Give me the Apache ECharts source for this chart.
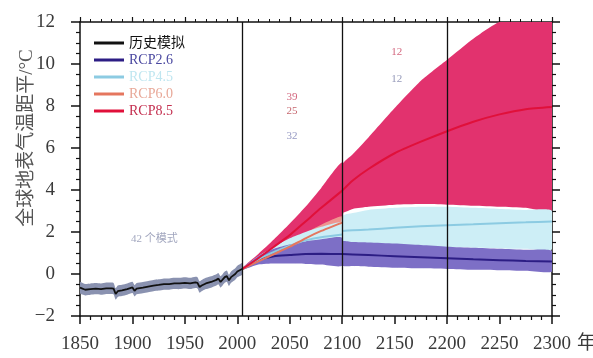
<!DOCTYPE html>
<html>
<head>
<meta charset="utf-8">
<script src="https://cdn.jsdelivr.net/npm/echarts@6/dist/echarts.min.js"></script>
<style>
html, body { margin: 0; padding: 0; background: #fff; }
#main { width: 593px; height: 358px; }
</style>
</head>
<body>
<div id="main"></div>
<script>
// historical run (1850-2005)
var histYears = [1850, 1855, 1860, 1865, 1870, 1875, 1880, 1882, 1884, 1886, 1890, 1895, 1900, 1902, 1904, 1910, 1915, 1920, 1925, 1930, 1935, 1940, 1945, 1950, 1955, 1960, 1962, 1964, 1966, 1970, 1975, 1980, 1982, 1984, 1988, 1990, 1992, 1994, 1998, 2000, 2005];
var histMean = [-0.65, -0.75, -0.72, -0.7, -0.72, -0.68, -0.68, -0.7, -0.95, -0.82, -0.78, -0.72, -0.64, -0.8, -0.7, -0.65, -0.6, -0.55, -0.52, -0.48, -0.48, -0.45, -0.45, -0.42, -0.45, -0.4, -0.42, -0.62, -0.55, -0.45, -0.38, -0.28, -0.22, -0.38, -0.15, -0.1, -0.3, -0.15, 0.0, 0.12, 0.25];
var histSpread = 0.27;

// projections, 2005-2100 and 2100-2300
var preYears = [2005, 2020, 2035, 2050, 2065, 2080, 2100];
var postYears = [2100, 2110, 2125, 2150, 2175, 2200, 2225, 2250, 2275, 2300];

var rcp26Mean = [0.25, 0.65, 0.85, 0.9, 0.95, 0.96, 0.95];
var rcp26Low = [0.2, 0.45, 0.5, 0.5, 0.48, 0.45, 0.4];
var rcp26High = [0.3, 0.85, 1.2, 1.4, 1.55, 1.65, 1.72];
var rcp26MeanPost = [0.95, 0.93, 0.9, 0.85, 0.8, 0.75, 0.7, 0.66, 0.62, 0.6];
var rcp26LowPost = [0.4, 0.38, 0.35, 0.3, 0.27, 0.24, 0.2, 0.18, 0.15, 0.12];
var rcp26HighPost = [1.55, 1.52, 1.5, 1.45, 1.38, 1.3, 1.25, 1.2, 1.15, 1.1];

var rcp45Mean = [0.25, 0.7, 1.05, 1.35, 1.6, 1.75, 1.88];
var rcp45Low = [0.2, 0.55, 0.8, 1.0, 1.15, 1.25, 1.35];
var rcp45High = [0.3, 0.85, 1.3, 1.7, 2.0, 2.25, 2.45];
var rcp45MeanPost = [2.05, 2.08, 2.12, 2.2, 2.27, 2.32, 2.37, 2.42, 2.46, 2.5];
var rcp45LowPost = [1.35, 1.35, 1.32, 1.3, 1.3, 1.28, 1.25, 1.22, 1.2, 1.18];
var rcp45HighPost = [2.75, 2.9, 3.05, 3.15, 3.2, 3.2, 3.15, 3.1, 3.05, 3.0];

var rcp60Mean = [0.25, 0.6, 0.95, 1.3, 1.7, 2.05, 2.45];
var rcp60Low = [0.2, 0.5, 0.8, 1.1, 1.45, 1.8, 2.15];
var rcp60High = [0.3, 0.75, 1.15, 1.55, 1.95, 2.35, 2.75];

var rcp85Mean = [0.25, 0.75, 1.3, 1.85, 2.5, 3.15, 3.97];
var rcp85Low = [0.2, 0.55, 0.95, 1.3, 1.7, 2.1, 2.6];
var rcp85High = [0.3, 0.95, 1.65, 2.4, 3.2, 4.1, 5.3];
var rcp85MeanPost = [3.97, 4.45, 5.0, 5.75, 6.3, 6.8, 7.25, 7.6, 7.85, 7.95];
var rcp85LowPost = [2.95, 3.1, 3.2, 3.3, 3.33, 3.3, 3.25, 3.2, 3.15, 3.05];
var rcp85HighPost = [5.2, 5.7, 6.5, 7.9, 9.2, 10.2, 11.2, 12.05, 12.6, 13.0];

var dividerYears = [2005, 2100, 2200];
var legendNames = ['历史模拟', 'RCP2.6', 'RCP4.5', 'RCP6.0', 'RCP8.5'];

// model-count notes: [year, value, text, colour]
var notes = [
	[1921, 1.65, '42 个模式', '#8a90ae'],
	[2052, 8.4, '39', '#c8405e'],
	[2052, 7.75, '25', '#b8404a'],
	[2052, 6.55, '32', '#7a80b4'],
	[2152, 10.55, '12', '#c8405e'],
	[2152, 9.3, '12', '#7a80a8']
];

var serif = '"Liberation Serif", "DejaVu Serif", "Noto Sans CJK SC", serif';

function pairs(xs, ys) {
	var out = [];
	for (var i = 0; i < xs.length; i++) {
		out.push([xs[i], ys[i]]);
	}
	return out;
}

function shift(ys, d) {
	return ys.map(function (v) { return v + d; });
}

// spread band drawn as one polygon: upper edge forward, lower edge back
function band(xs, low, high, color) {
	var rows = [];
	for (var i = 0; i < xs.length; i++) {
		rows.push([xs[i], low[i], high[i]]);
	}
	return {
		type: 'custom',
		silent: true,
		clip: true,
		z: 1,
		data: rows,
		encode: { x: 0, y: [1, 2] },
		renderItem: function (params, api) {
			if (params.dataIndex !== 0) {
				return null;
			}
			var top = [], bottom = [];
			for (var k = 0; k < rows.length; k++) {
				top.push(api.coord([rows[k][0], rows[k][2]]));
				bottom.unshift(api.coord([rows[k][0], rows[k][1]]));
			}
			var rect = params.coordSys;
			var pts = echarts.graphic.clipPointsByRect(top.concat(bottom), {
				x: rect.x, y: rect.y, width: rect.width, height: rect.height
			});
			return {
				type: 'polygon',
				shape: { points: pts, smooth: 0.2 },
				style: { fill: color }
			};
		}
	};
}

function meanLine(name, xs, ys, color, width) {
	return {
		name: name,
		type: 'line',
		data: pairs(xs, ys),
		symbol: 'none',
		silent: true,
		smooth: 0.2,
		itemStyle: { color: color },
		lineStyle: { color: color, width: width || 2 },
		z: 3
	};
}

var series = [
	band(histYears, shift(histMean, -histSpread), shift(histMean, histSpread), '#8a92b0'),
	band(preYears, rcp85Low, rcp85High, '#e2326e'),
	band(postYears, rcp85LowPost, rcp85HighPost, '#e2326e'),
	band(preYears, rcp60Low, rcp60High, 'rgba(240,160,146,0.9)'),
	band(preYears, rcp45Low, rcp45High, '#cdeef6'),
	band(postYears, rcp45LowPost, rcp45HighPost, '#cdeef6'),
	band(preYears, rcp26Low, rcp26High, '#7d6fc6'),
	band(postYears, rcp26LowPost, rcp26HighPost, '#7d6fc6')
];

var hist = meanLine('历史模拟', histYears, histMean, '#111111', 1.8);
hist.smooth = false;
hist.markLine = {
	silent: true,
	symbol: 'none',
	label: { show: false },
	lineStyle: { color: '#111', width: 1.3, type: 'solid' },
	data: dividerYears.map(function (y) { return { xAxis: y }; })
};
series.push(hist);
series.push(meanLine('RCP2.6', preYears, rcp26Mean, '#2c1d84'));
series.push(meanLine('RCP2.6', postYears, rcp26MeanPost, '#2c1d84'));
series.push(meanLine('RCP4.5', preYears, rcp45Mean, '#8ccbe2'));
series.push(meanLine('RCP4.5', postYears, rcp45MeanPost, '#8ccbe2'));
series.push(meanLine('RCP6.0', preYears, rcp60Mean, '#e5765e'));
series.push(meanLine('RCP8.5', preYears, rcp85Mean, '#e0103a'));
series.push(meanLine('RCP8.5', postYears, rcp85MeanPost, '#e0103a'));

series.push({
	type: 'scatter',
	symbolSize: 0,
	silent: true,
	z: 4,
	data: notes.map(function (n) {
		return {
			value: [n[0], n[1]],
			label: {
				show: true,
				position: 'inside',
				formatter: n[2],
				color: n[3],
				fontSize: 11,
				fontFamily: serif
			}
		};
	})
});

var legendColors = ['#111111', '#4a48a0', '#bfe6f0', '#e8a898', '#c43050'];

function plainNum(v) {
	return String(v).replace('-', '\u2212');
}

var chart = echarts.init(document.getElementById('main'));
var option = {
	backgroundColor: '#fff',
	animation: false,
	textStyle: { fontFamily: serif },
	grid: { left: 80, right: 41, top: 22, bottom: 42, outerBoundsMode: 'none' },
	legend: {
		left: 89,
		top: 31,
		orient: 'vertical',
		icon: 'rect',
		itemWidth: 30,
		itemHeight: 3,
		itemGap: 3,
		selectedMode: false,
		textStyle: { fontFamily: serif, fontSize: 14 },
		data: legendNames.map(function (n, i) {
			return { name: n, textStyle: { color: legendColors[i] } };
		})
	},
	xAxis: [{
		type: 'value',
		min: 1850,
		max: 2300,
		interval: 50,
		position: 'bottom',
		name: '年',
		nameLocation: 'end',
		nameGap: 21,
		nameTextStyle: { fontFamily: serif, fontSize: 19, color: '#3a3a3a', verticalAlign: 'top', padding: [19, 0, 0, 0] },
		axisLine: { onZero: false, lineStyle: { color: '#111', width: 1.5 } },
		axisTick: { length: 8, lineStyle: { color: '#111', width: 1.5 } },
		minorTick: { show: true, splitNumber: 5, length: 4, lineStyle: { color: '#111', width: 1.2 } },
		axisLabel: { fontFamily: serif, fontSize: 19, color: '#3a3a3a', margin: 19, formatter: plainNum },
		splitLine: { show: false }
	}, {
		type: 'value',
		min: 1850,
		max: 2300,
		interval: 50,
		position: 'top',
		axisLine: { onZero: false, lineStyle: { color: '#111', width: 1.5 } },
		axisTick: { length: 5, lineStyle: { color: '#111', width: 1.2 } },
		minorTick: { show: true, splitNumber: 5, length: 3, lineStyle: { color: '#111' } },
		axisLabel: { show: false },
		splitLine: { show: false }
	}],
	yAxis: [{
		type: 'value',
		min: -2,
		max: 12,
		interval: 2,
		position: 'left',
		axisLine: { show: true, onZero: false, lineStyle: { color: '#111', width: 1.5 } },
		axisTick: { show: true, length: 9, lineStyle: { color: '#111', width: 1.5 } },
		minorTick: { show: true, splitNumber: 4, length: 4, lineStyle: { color: '#111', width: 1.2 } },
		axisLabel: { fontFamily: serif, fontSize: 19, color: '#3a3a3a', margin: 25, formatter: plainNum },
		splitLine: { show: false }
	}, {
		type: 'value',
		min: -2,
		max: 12,
		interval: 2,
		position: 'right',
		axisLine: { show: true, onZero: false, lineStyle: { color: '#111', width: 1.5 } },
		axisTick: { show: true, length: 8, lineStyle: { color: '#111', width: 1.5 } },
		minorTick: { show: true, splitNumber: 4, length: 4, lineStyle: { color: '#111', width: 1.2 } },
		axisLabel: { show: false },
		splitLine: { show: false }
	}],
	graphic: [{
		type: 'text',
		x: 27,
		y: 138,
		rotation: Math.PI / 2,
		style: {
			text: '全球地表气温距平/°C',
			fontFamily: serif,
			fontSize: 19,
			fill: '#555',
			align: 'center',
			verticalAlign: 'middle'
		}
	}],
	series: series
};
chart.setOption(option);
</script>
</body>
</html>
